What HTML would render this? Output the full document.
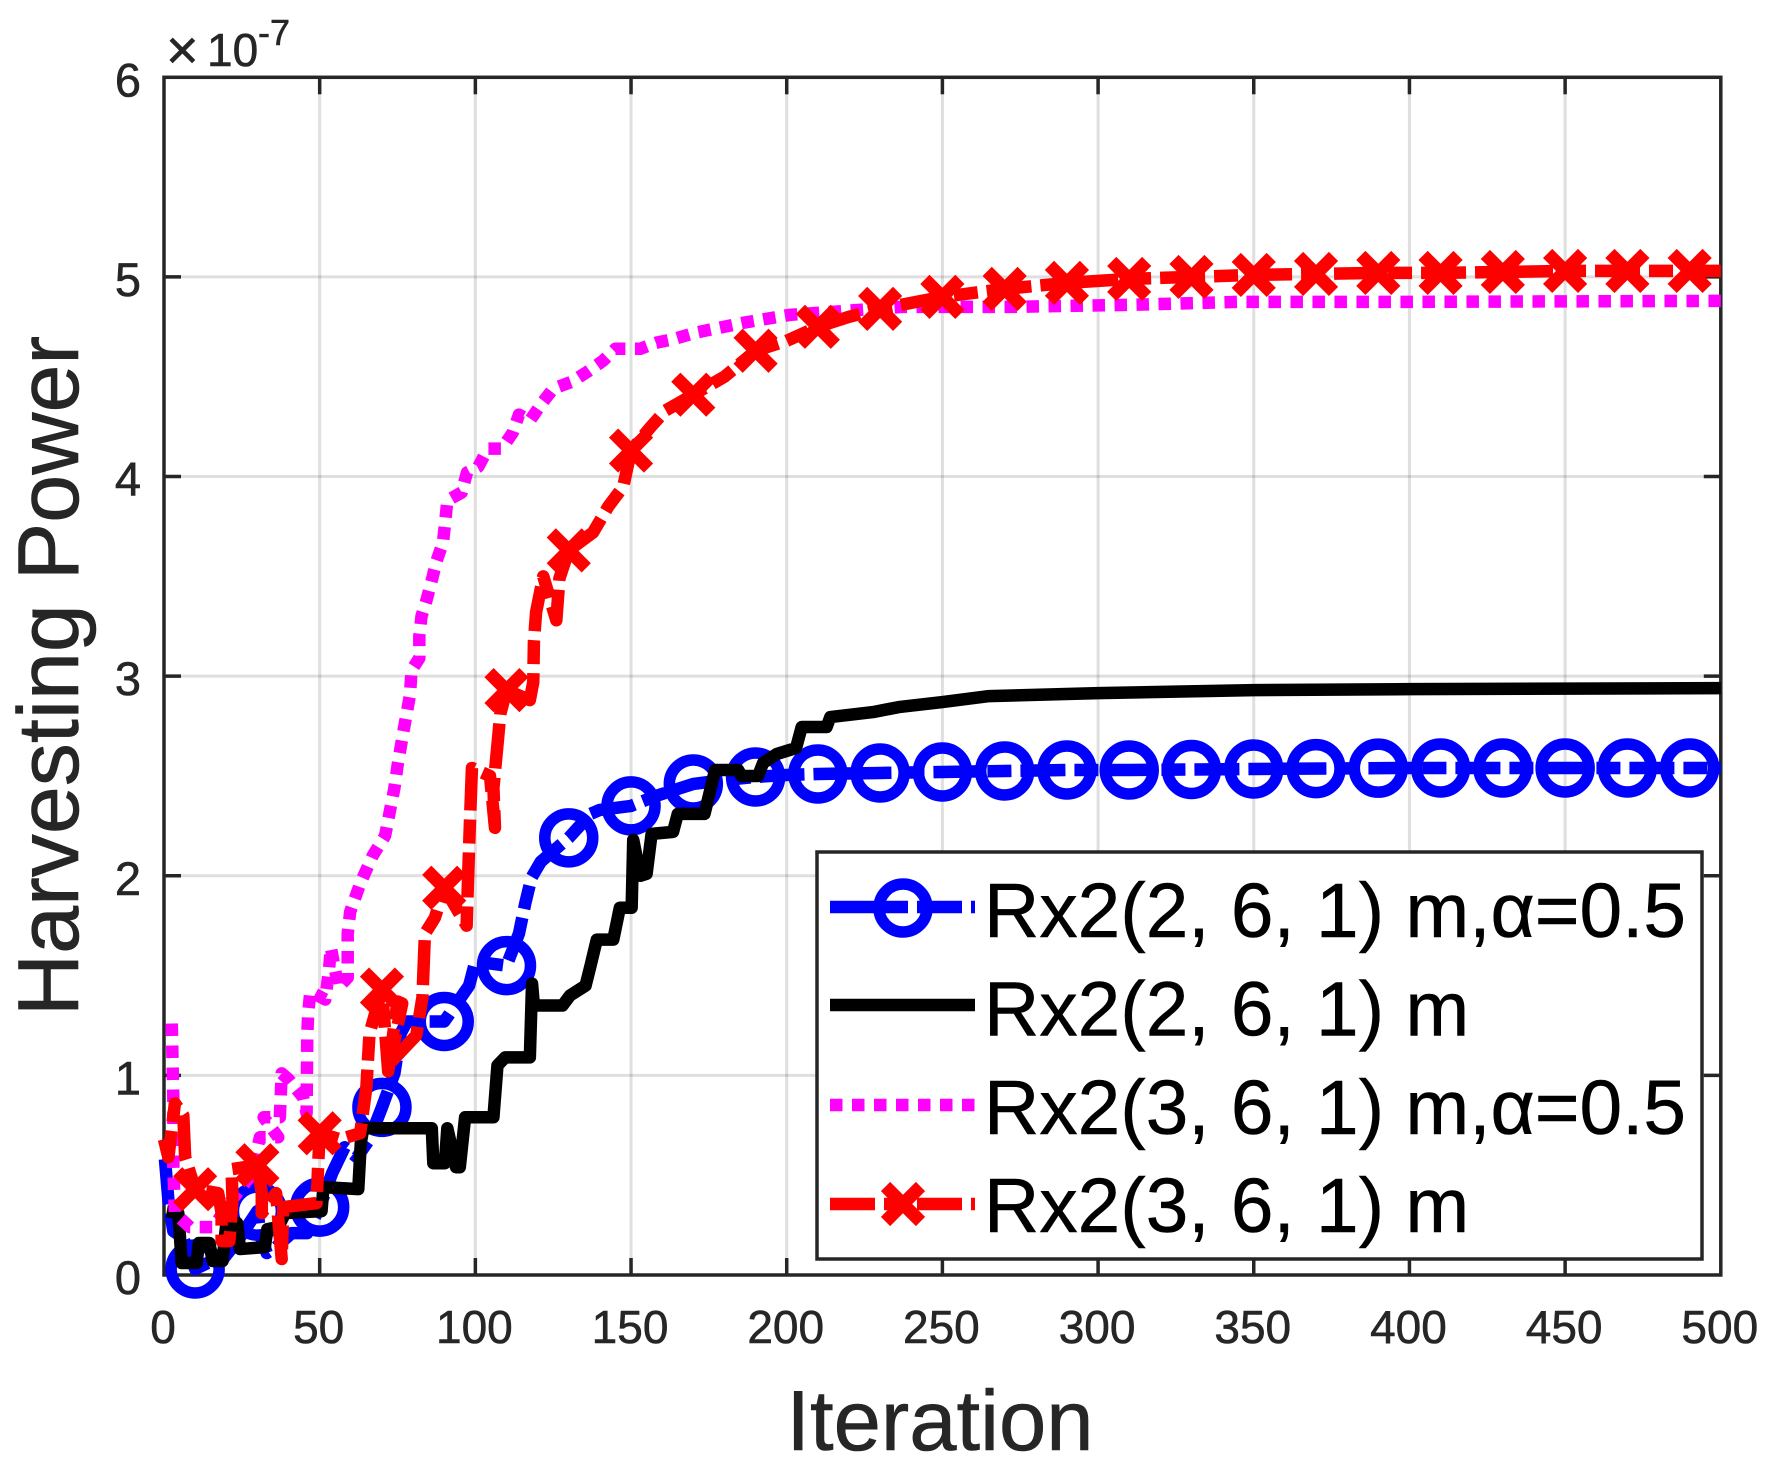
<!DOCTYPE html>
<html>
<head>
<meta charset="utf-8">
<style>
html,body{margin:0;padding:0;background:#fff;}
svg{display:block;}
text{font-family:"Liberation Sans",Arial,sans-serif;}
#xlabels text,#ylabels text,.axis-text{stroke:#262626;stroke-width:.6;}
.legend-text{stroke:#000;stroke-width:.5;}
</style>
</head>
<body>
<svg id="chart" xmlns="http://www.w3.org/2000/svg" width="1767" height="1473" viewBox="0 0 1767 1473">
  <g id="grid"></g>
  <rect x="164" y="77.3" width="1556.8" height="1197.7" fill="none" stroke="#262626" stroke-width="3.5"></rect>
  <g id="ticks"></g>
  <g id="xlabels" font-size="46" fill="#262626" text-anchor="middle"></g>
  <g id="ylabels" font-size="47" fill="#262626" text-anchor="end"></g>
  <g fill="#262626">
    <text class="axis-text" x="166" y="69" font-size="56">×</text>
    <text class="axis-text" x="207" y="66" font-size="46">10</text>
    <text class="axis-text" x="258" y="45" font-size="36">-7</text>
  </g>
  <text class="axis-text" x="940" y="1450" font-size="85" fill="#262626" text-anchor="middle">Iteration</text>
  <text class="axis-text" transform="translate(78,676) rotate(-90)" font-size="86.2" fill="#262626" text-anchor="middle">Harvesting Power</text>
  <g id="series"></g>
  <g>
    <rect x="817" y="852" width="885" height="407" fill="#fff" stroke="#262626" stroke-width="3.5"></rect>
    <g id="legend-samples"></g>
    <g font-size="76.6" fill="#000">
      <text class="legend-text" x="984" y="937">Rx2(2, 6, 1) m,α=0.5</text>
      <text class="legend-text" x="984" y="1035.5">Rx2(2, 6, 1) m</text>
      <text class="legend-text" x="984" y="1134">Rx2(3, 6, 1) m,α=0.5</text>
      <text class="legend-text" x="984" y="1232">Rx2(3, 6, 1) m</text>
    </g>
  </g>
</svg>
<script>
const xTicks = [0, 50, 100, 150, 200, 250, 300, 350, 400, 450, 500];
const yTicks = [0, 1, 2, 3, 4, 5, 6];
const markerIters = [10, 30, 50, 70, 90, 110, 130, 150, 170, 190, 210, 230, 250, 270, 290, 310, 330, 350, 370, 390, 410, 430, 450, 470, 490];

const blueIters = [0.3, 1.5, 3, 6, 10, 14, 19, 24, 30, 31, 33, 36, 41, 46, 50, 54, 58, 62, 66, 70, 74, 76, 78, 90, 98, 100, 110, 114, 116, 118, 121, 130, 137, 140, 150, 158, 170, 180, 190, 200, 210, 230, 250, 270, 290, 310, 350, 400, 450, 490, 500];
const blueValues = [0.58, 0.36, 0.22, 0.19, 0.03, 0.06, 0.08, 0.18, 0.32, 0.2, 0.11, 0.14, 0.21, 0.21, 0.34, 0.51, 0.64, 0.59, 0.68, 0.84, 1.01, 1.21, 1.27, 1.27, 1.45, 1.57, 1.55, 1.71, 1.86, 1.99, 2.07, 2.19, 2.31, 2.33, 2.35, 2.4, 2.46, 2.48, 2.495, 2.505, 2.51, 2.515, 2.52, 2.525, 2.53, 2.53, 2.535, 2.54, 2.54, 2.54, 2.54];

const blackIters = [0.9, 4.6, 5.7, 10.5, 11.2, 14.6, 15.6, 18.8, 19.9, 23.5, 24.4, 32.4, 33.2, 36.7, 38.9, 50.6, 51.2, 62.4, 63.2, 64, 86, 86.5, 90.2, 91, 93.8, 95, 96.7, 105.8, 107.1, 109.6, 117.5, 118.2, 118.8, 128, 130.4, 135.4, 137, 139, 144.3, 146.4, 150.2, 150.7, 153, 155, 156.6, 163.5, 165, 173.6, 177, 184.4, 185.5, 190.8, 192.4, 196.8, 203, 204.8, 212.8, 214, 227.7, 236, 250, 265, 300, 350, 400, 500];
const blackValues = [0.32, 0.31, 0.06, 0.06, 0.16, 0.16, 0.07, 0.07, 0.24, 0.26, 0.13, 0.14, 0.23, 0.24, 0.31, 0.32, 0.44, 0.43, 0.66, 0.735, 0.735, 0.56, 0.56, 0.735, 0.54, 0.54, 0.79, 0.79, 1.05, 1.09, 1.09, 1.46, 1.35, 1.35, 1.4, 1.45, 1.55, 1.68, 1.68, 1.84, 1.84, 2.18, 2.0, 2.01, 2.21, 2.22, 2.31, 2.31, 2.53, 2.53, 2.5, 2.5, 2.565, 2.61, 2.64, 2.745, 2.745, 2.795, 2.82, 2.845, 2.87, 2.9, 2.915, 2.93, 2.935, 2.94];

const magentaIters = [2.5, 3, 3, 3.5, 8.3, 15.8, 22, 28, 30.8, 36.7, 32, 37.2, 37.8, 40, 44.7, 45.8, 46, 46.3, 47, 51.8, 53, 53.6, 56, 59, 59, 59.8, 63, 67, 71, 74, 75, 76.8, 79, 79.5, 82, 82, 82.7, 84.3, 86, 87.6, 89.6, 90.3, 91, 95.6, 97.3, 101, 104, 108.5, 112, 114, 117.5, 121, 125, 131, 136, 141, 145, 153, 158, 164, 170.5, 186, 201, 219, 237, 255, 273, 310, 345, 400, 500];
const magentaValues = [1.26, 0.88, 0.54, 0.31, 0.24, 0.24, 0.38, 0.5, 0.69, 0.69, 0.79, 0.79, 1.01, 0.98, 0.89, 0.81, 1.19, 1.31, 1.42, 1.38, 1.53, 1.64, 1.44, 1.49, 1.71, 1.82, 1.96, 2.1, 2.2, 2.44, 2.55, 2.715, 2.905, 3.03, 3.09, 3.2, 3.3, 3.38, 3.48, 3.58, 3.67, 3.77, 3.88, 3.92, 4.02, 4.05, 4.14, 4.14, 4.22, 4.31, 4.28, 4.36, 4.44, 4.475, 4.525, 4.58, 4.64, 4.64, 4.67, 4.69, 4.72, 4.77, 4.81, 4.83, 4.85, 4.85, 4.85, 4.86, 4.875, 4.875, 4.88];

const redIters = [0, 1.4, 3.5, 6.2, 6.8, 10, 17.4, 18.5, 18.5, 21, 22, 21.7, 30, 31.4, 31.4, 36, 37.8, 38.3, 49, 49.6, 50, 56.5, 63, 65, 66, 70, 72, 75, 76.5, 72.5, 81, 83, 83.8, 87, 90, 97.2, 97.6, 98.3, 98.9, 104.7, 106.3, 105.8, 107.3, 108, 110, 117.5, 118.6, 118.8, 119.5, 121.8, 126, 127, 130, 137.8, 142.7, 147.5, 150, 156.4, 161, 170, 180, 190, 200, 210, 220, 230, 250, 270, 290, 310, 330, 350, 370, 390, 410, 430, 450, 470, 490, 500];
const redValues = [0.68, 0.59, 0.86, 0.8, 0.59, 0.43, 0.41, 0.31, 0.17, 0.17, 0.38, 0.53, 0.55, 0.41, 0.31, 0.41, 0.08, 0.34, 0.36, 0.58, 0.71, 0.68, 0.71, 0.94, 1.21, 1.43, 1.02, 1.37, 1.36, 1.06, 1.2, 1.39, 1.71, 1.79, 1.94, 1.75, 1.96, 2.29, 2.54, 2.5, 2.24, 2.44, 2.69, 2.81, 2.93, 2.88, 2.97, 3.17, 3.32, 3.5, 3.28, 3.49, 3.63, 3.72, 3.85, 3.95, 4.13, 4.25, 4.33, 4.41, 4.5, 4.63, 4.68, 4.75, 4.8, 4.84, 4.9, 4.94, 4.97, 4.99, 5.0, 5.01, 5.015, 5.02, 5.02, 5.025, 5.03, 5.03, 5.03, 5.03];

const NS = 'http://www.w3.org/2000/svg';
const PLOT_LEFT = 164, PLOT_RIGHT = 1720.8, PLOT_TOP = 77.3, PLOT_BOTTOM = 1275;
const xMax = 500, yMax = 6;
function xScale(v) { return PLOT_LEFT + (v / xMax) * (PLOT_RIGHT - PLOT_LEFT); }
function yScale(v) { return PLOT_BOTTOM - (v / yMax) * (PLOT_BOTTOM - PLOT_TOP); }
function svgEl(tag, attrs, parent) {
  const el = document.createElementNS(NS, tag);
  for (const k in attrs) el.setAttribute(k, attrs[k]);
  parent.appendChild(el);
  return el;
}
function valueAt(iters, values, it) {
  for (let i = 0; i < iters.length; i++) {
    if (iters[i] === it) return values[i];
  }
  for (let i = 0; i < iters.length - 1; i++) {
    if (iters[i] <= it && iters[i + 1] >= it) {
      const t = (it - iters[i]) / (iters[i + 1] - iters[i]);
      return values[i] + t * (values[i + 1] - values[i]);
    }
  }
  return values[values.length - 1];
}

const gridG = document.getElementById('grid');
const ticksG = document.getElementById('ticks');
const xLabelG = document.getElementById('xlabels');
const yLabelG = document.getElementById('ylabels');
const GRID = { stroke: '#262626', 'stroke-opacity': 0.15, 'stroke-width': 3 };
const TICK = { stroke: '#262626', 'stroke-width': 3.5 };
const TICK_LEN = 17;

xTicks.forEach(function (t) {
  const x = xScale(t);
  if (t > 0 && t < xMax) {
    const g = svgEl('line', Object.assign({ x1: x, x2: x, y1: PLOT_TOP, y2: PLOT_BOTTOM }, GRID), gridG);
    
    
    const a = svgEl('line', Object.assign({ x1: x, x2: x, y1: PLOT_BOTTOM, y2: PLOT_BOTTOM - TICK_LEN }, TICK), ticksG);
    
    
    const b = svgEl('line', Object.assign({ x1: x, x2: x, y1: PLOT_TOP, y2: PLOT_TOP + TICK_LEN }, TICK), ticksG);
    
    
  }
  const label = svgEl('text', { x: x - 1, y: 1343 }, xLabelG);
  
  
  label.textContent = String(t);
});

yTicks.forEach(function (t) {
  const y = yScale(t);
  if (t > 0 && t < yMax) {
    const g = svgEl('line', Object.assign({ x1: PLOT_LEFT, x2: PLOT_RIGHT, y1: y, y2: y }, GRID), gridG);
    
    
    const a = svgEl('line', Object.assign({ x1: PLOT_LEFT, x2: PLOT_LEFT + TICK_LEN, y1: y, y2: y }, TICK), ticksG);
    
    
    const b = svgEl('line', Object.assign({ x1: PLOT_RIGHT, x2: PLOT_RIGHT - TICK_LEN, y1: y, y2: y }, TICK), ticksG);
    
    
  }
  const label = svgEl('text', { x: 141, y: y + 19 }, yLabelG);
  
  
  label.textContent = String(t);
});

const DASHDOT = '45 9 24 9';
const DOTTED = '12.5 9.5';
const seriesG = document.getElementById('series');

function drawRing(parent, x, y, color) {
  return svgEl('circle', { cx: x, cy: y, r: 24, fill: 'none', stroke: color, 'stroke-width': 11.5 }, parent);
}
function drawCross(parent, x, y, color) {
  const h = 17.5;
  return svgEl('path', {
    d: 'M' + (x - h) + ' ' + (y - h) + 'L' + (x + h) + ' ' + (y + h) + 'M' + (x - h) + ' ' + (y + h) + 'L' + (x + h) + ' ' + (y - h),
    fill: 'none', stroke: color, 'stroke-width': 13
  }, parent);
}
function linePath(iters, values) {
  return iters.map(function (it, i) {
    return (i ? 'L' : 'M') + xScale(it).toFixed(2) + ' ' + yScale(values[i]).toFixed(2);
  }).join('');
}
function lineAttrs(iters, values, color, dash) {
  const a = { d: linePath(iters, values), fill: 'none', stroke: color, 'stroke-width': 12.5, 'stroke-linejoin': 'round', 'stroke-linecap': 'butt' };
  if (dash) a['stroke-dasharray'] = dash;
  return a;
}

// blue series
const blueG = svgEl('g', {}, seriesG);


const blueLine = svgEl('path', lineAttrs(blueIters, blueValues, '#0000ff', DASHDOT), blueG);


markerIters.forEach(function (it) {
  const m = drawRing(blueG, xScale(it), yScale(valueAt(blueIters, blueValues, it)), '#0000ff');
  
  
});

// black series
const blackLine = svgEl('path', lineAttrs(blackIters, blackValues, '#000000', null), seriesG);



// magenta series
const magentaLine = svgEl('path', lineAttrs(magentaIters, magentaValues, '#ff00ff', DOTTED), seriesG);



// red series
const redG = svgEl('g', {}, seriesG);


const redLine = svgEl('path', lineAttrs(redIters, redValues, '#ff0000', DASHDOT), redG);


markerIters.forEach(function (it) {
  const m = drawCross(redG, xScale(it), yScale(valueAt(redIters, redValues, it)), '#ff0000');
  
  
});

// legend samples
const legendG = document.getElementById('legend-samples');
const LX1 = 830, LX2 = 975, LMID = 903;
const s1 = svgEl('line', { x1: LX1, x2: LX2, y1: 907, y2: 907, stroke: '#0000ff', 'stroke-width': 12.5, 'stroke-dasharray': DASHDOT }, legendG);


const s1m = drawRing(legendG, LMID, 908, '#0000ff');


const s2 = svgEl('line', { x1: LX1, x2: LX2, y1: 1005, y2: 1005, stroke: '#000', 'stroke-width': 12.5 }, legendG);


const s3 = svgEl('line', { x1: LX1, x2: LX2, y1: 1105, y2: 1105, stroke: '#ff00ff', 'stroke-width': 12.5, 'stroke-dasharray': DOTTED }, legendG);


const s4 = svgEl('line', { x1: LX1, x2: LX2, y1: 1204, y2: 1204, stroke: '#ff0000', 'stroke-width': 12.5, 'stroke-dasharray': DASHDOT }, legendG);


const s4m = drawCross(legendG, LMID, 1204, '#ff0000');


</script>
</body>
</html>
